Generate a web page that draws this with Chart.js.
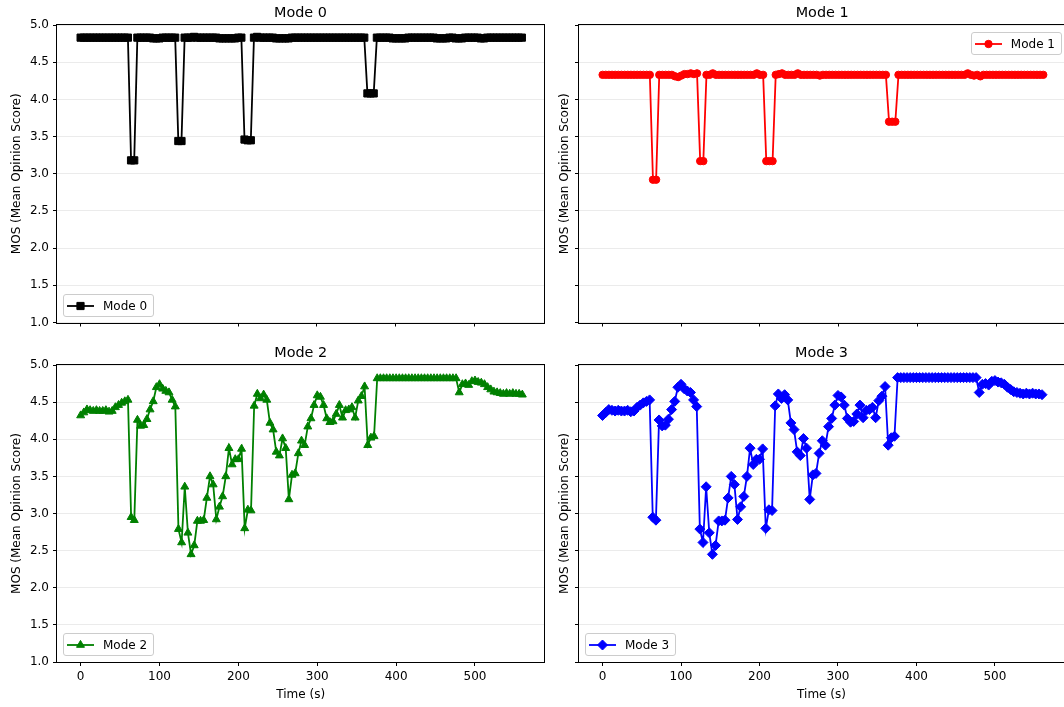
<!DOCTYPE html>
<html>
<head>
<meta charset="utf-8">
<script src="https://cdn.jsdelivr.net/npm/chart.js@4.4.0/dist/chart.umd.min.js"></script>
<style>
html,body{margin:0;padding:0;background:#ffffff;}
body{width:1064px;height:707px;overflow:hidden;position:relative;font-family:"DejaVu Sans",sans-serif;}
.panel{position:absolute;}
.panel canvas{display:block;}
.legend{position:absolute;z-index:5;height:23px;box-sizing:border-box;border:1px solid #cccccc;border-radius:3px;
background:rgba(255,255,255,0.8);display:flex;align-items:center;padding:0 6px 0 3px;font-size:12px;color:#000;white-space:nowrap;}
.legend canvas{margin-right:9px;display:block;}
</style>
</head>
<body>
<div class="panel" id="p0"><canvas id="c0"></canvas></div>
<div class="panel" id="p1"><canvas id="c1"></canvas></div>
<div class="panel" id="p2"><canvas id="c2"></canvas></div>
<div class="panel" id="p3"><canvas id="c3"></canvas></div>
<script>
// ---------- data ----------
const time = [0,4,8,12,16,20,24,28,32,36,40,44,48,52,56,60,64,68,72,76,80,84,88,92,96,100,104,108,112,116,120,124,128,132,136,140,144,148,152,156,160,164,168,172,176,180,184,188,192,196,200,204,208,212,216,220,224,228,232,236,240,244,248,252,256,260,264,268,272,276,280,284,288,292,296,300,304,308,312,316,320,324,328,332,336,340,344,348,352,356,360,364,368,372,376,380,384,388,392,396,400,404,408,412,416,420,424,428,432,436,440,444,448,452,456,460,464,468,472,476,480,484,488,492,496,500,504,508,512,516,520,524,528,532,536,540,544,548,552,556,560];

const mode0 = [4.83,4.83,4.83,4.83,4.83,4.83,4.83,4.83,4.83,4.83,4.83,4.83,4.83,4.83,4.83,4.83,
3.18,3.18,
4.83,4.83,4.83,4.83,4.83,4.82,4.82,4.82,4.83,4.83,4.83,4.83,4.83,
3.44,3.44,
4.83,4.83,4.83,4.84,4.83,4.83,4.83,4.83,4.83,4.83,4.83,4.82,4.82,4.82,4.82,4.82,4.82,4.83,4.83,
3.46,3.45,3.45,
4.83,4.84,4.83,4.83,4.83,4.83,4.83,4.82,4.82,4.82,4.82,4.82,4.83,4.83,4.83,4.83,4.83,4.83,
4.83,4.83,4.83,4.83,4.83,4.83,4.83,4.83,4.83,4.83,4.83,4.83,4.83,4.83,4.83,4.83,4.83,4.83,
4.08,4.08,4.08,
4.83,4.83,4.83,4.83,4.83,4.82,4.82,4.82,4.82,4.82,4.83,4.83,4.83,4.83,4.83,4.83,
4.83,4.83,4.83,4.82,4.82,4.82,4.82,4.83,4.83,4.82,4.82,4.82,4.83,4.83,4.83,4.83,
4.83,4.82,4.82,4.83,4.83,4.83,4.83,4.83,4.83,4.83,4.83,4.83,4.83,4.83,4.83];

const mode1 = [4.33,4.33,4.33,4.33,4.33,4.33,4.33,4.33,4.33,4.33,4.33,4.33,4.33,4.33,4.33,4.33,
2.92,2.92,
4.33,4.33,4.33,4.33,4.33,4.31,4.30,4.32,4.34,4.34,4.35,4.34,4.35,
3.17,3.17,
4.33,4.33,4.35,4.33,4.33,4.33,4.33,4.33,4.33,4.33,4.33,4.33,4.33,4.33,4.33,4.33,4.35,4.33,4.33,
3.17,3.17,3.17,
4.33,4.34,4.35,4.33,4.33,4.33,4.33,4.35,4.33,4.33,4.33,4.33,4.33,4.33,4.32,4.33,4.33,4.33,
4.33,4.33,4.33,4.33,4.33,4.33,4.33,4.33,4.33,4.33,4.33,4.33,4.33,4.33,4.33,4.33,4.33,4.33,
3.70,3.70,3.70,
4.33,4.33,4.33,4.33,4.33,4.33,4.33,4.33,4.33,4.33,4.33,4.33,4.33,4.33,4.33,4.33,
4.33,4.33,4.33,4.33,4.33,4.33,4.35,4.33,4.32,4.33,4.31,4.33,4.33,4.33,4.33,4.33,
4.33,4.33,4.33,4.33,4.33,4.33,4.33,4.33,4.33,4.33,4.33,4.33,4.33,4.33,4.33];

const mode2 = [4.32,4.36,4.40,4.39,4.38,4.39,4.38,4.38,4.39,4.37,4.38,4.43,4.46,4.49,4.51,4.53,
2.95,2.91,
4.26,4.18,4.19,4.27,4.40,4.51,4.70,4.74,4.68,4.65,4.63,4.53,4.44,
2.79,2.61,3.36,2.74,2.45,2.57,2.90,2.90,2.91,3.21,3.50,3.39,2.92,3.09,3.23,3.50,3.88,3.66,3.73,3.73,3.87,
2.80,3.05,3.04,
4.45,4.61,4.55,4.60,4.53,4.22,4.13,3.83,3.78,4.01,3.88,3.19,3.52,3.54,3.81,3.98,3.92,4.17,
4.28,4.46,4.59,4.57,4.46,4.28,4.23,4.24,4.34,4.46,4.29,4.39,4.40,4.43,4.29,4.52,4.58,4.71,
3.92,4.02,4.04,
4.82,4.82,4.82,4.82,4.82,4.82,4.82,4.82,4.82,4.82,4.82,4.82,4.82,4.82,4.82,4.82,4.82,4.82,4.82,4.82,4.82,4.82,4.82,4.82,4.82,4.82,
4.63,4.74,4.75,4.73,4.78,4.79,4.77,4.76,4.74,4.70,4.67,4.64,4.63,4.62,4.61,4.62,4.61,4.62,4.61,4.61,4.60];

const mode3 = [4.32,4.36,4.40,4.39,4.38,4.39,4.38,4.38,4.39,4.37,4.38,4.43,4.46,4.49,4.51,4.53,
2.95,2.91,
4.26,4.18,4.19,4.27,4.40,4.51,4.70,4.74,4.68,4.65,4.63,4.53,4.44,
2.79,2.61,3.36,2.74,2.45,2.57,2.90,2.90,2.91,3.21,3.50,3.39,2.92,3.09,3.23,3.50,3.88,3.66,3.73,3.73,3.87,
2.80,3.05,3.04,
4.45,4.61,4.55,4.60,4.53,4.22,4.13,3.83,3.78,4.01,3.88,3.19,3.52,3.54,3.81,3.98,3.92,4.17,
4.28,4.46,4.59,4.57,4.46,4.28,4.23,4.24,4.34,4.46,4.29,4.39,4.40,4.43,4.29,4.52,4.58,4.71,
3.92,4.02,4.04,
4.83,4.83,4.83,4.83,4.83,4.83,4.83,4.83,4.83,4.83,4.83,4.83,4.83,4.83,4.83,4.83,4.83,4.83,4.83,4.83,4.83,4.83,4.83,4.83,4.83,4.83,
4.63,4.74,4.75,4.73,4.78,4.79,4.77,4.76,4.74,4.70,4.67,4.64,4.63,4.62,4.61,4.62,4.61,4.62,4.61,4.61,4.60];

const seriesLabels = ['Mode 0','Mode 1','Mode 2','Mode 3'];
const xTicks = [0,100,200,300,400,500];
const yTicks = [1.0,1.5,2.0,2.5,3.0,3.5,4.0,4.5,5.0];
const xTitle = 'Time (s)';
const yTitle = 'MOS (Mean Opinion Score)';

// ---------- layout / style ----------
const FONT = 'DejaVu Sans';
const panels = [
  {canvas:'c0', div:'p0', left:0,   top:0,   w:550, h:340, padR:4, yW:57, xH:17.5, yPad:10, yLab:true,  xLab:false,
   values:mode0, color:'#000000', style:'rect',    r:5.1, legend:{left:63, top:294}},
  {canvas:'c1', div:'p1', left:550, top:0,   w:520, h:340, padR:2, yW:29, xH:17.5, yPad:8,  yLab:false, xLab:false,
   values:mode1, color:'#ff0000', style:'circle',  r:3.7, legend:{right:2, top:32}},
  {canvas:'c2', div:'p2', left:0,   top:340, w:550, h:367, padR:4, yW:57, xH:45,   yPad:10, yLab:true,  xLab:true,
   values:mode2, color:'#008000', style:'triangle',r:4.6, legend:{left:63, top:633}},
  {canvas:'c3', div:'p3', left:550, top:340, w:520, h:367, padR:2, yW:29, xH:45,   yPad:8,  yLab:false, xLab:true,
   values:mode3, color:'#0000ff', style:'rectRot', r:5.0, legend:{left:585, top:633}}
];

const framePlugin = {
  id:'frame',
  afterDatasetsDraw(chart){
    const a = chart.chartArea, ctx = chart.ctx;
    ctx.save();
    ctx.strokeStyle = '#000';
    ctx.lineWidth = 1;
    const l = Math.round(a.left) - 0.5, t = Math.round(a.top) - 0.5;
    const r = Math.round(a.right) + 0.5, b = Math.round(a.bottom) + 0.5;
    ctx.strokeRect(l, t, r - l, b - t);
    ctx.restore();
  }
};

function drawMarker(c, style, x, y, r){
  c.beginPath();
  if (style === 'rect'){ const s = Math.SQRT1_2*r; c.rect(x-s, y-s, 2*s, 2*s); }
  else if (style === 'circle'){ c.arc(x, y, r, 0, Math.PI*2); }
  else if (style === 'triangle'){
    for (let k=0;k<3;k++){ const a = k*2*Math.PI/3; const px = x+Math.sin(a)*r, py = y-Math.cos(a)*r; if(k===0)c.moveTo(px,py); else c.lineTo(px,py); }
    c.closePath();
  } else { c.moveTo(x-r,y); c.lineTo(x,y-r); c.lineTo(x+r,y); c.lineTo(x,y+r); c.closePath(); }
  c.fill(); c.stroke();
}

panels.forEach((p, idx) => {
  const div = document.getElementById(p.div);
  div.style.left = p.left+'px'; div.style.top = p.top+'px';
  div.style.width = p.w+'px'; div.style.height = p.h+'px';
  const cv = document.getElementById(p.canvas);
  cv.width = p.w; cv.height = p.h;
  cv.style.width = p.w+'px'; cv.style.height = p.h+'px';

  const pts = time.map((t,i) => ({x:t, y:p.values[i]}));

  new Chart(cv, {
    type:'line',
    data:{ datasets:[{
      label: seriesLabels[idx],
      data: pts,
      borderColor:p.color, backgroundColor:p.color,
      borderWidth:1.8, tension:0,
      pointStyle:p.style, pointRadius:p.r, pointBorderWidth:1,
      pointBackgroundColor:p.color, pointBorderColor:p.color,
      pointHoverRadius:p.r
    }]},
    options:{
      responsive:false, animation:false, devicePixelRatio:1, events:[],
      layout:{padding:{left:0, right:p.padR, top:0, bottom:0}},
      plugins:{
        legend:{display:false}, tooltip:{enabled:false},
        title:{display:true, text:seriesLabels[idx], fullSize:false, color:'#000',
               font:{family:FONT, size:14.4, weight:'normal', lineHeight:1.2},
               padding:{top:5, bottom:2.72}}
      },
      scales:{
        x:{type:'linear', min:-30, max:588,
           afterBuildTicks: s => { s.ticks = xTicks.map(v => ({value:v})); },
           afterFit: s => { s.height = p.xH; },
           grid:{drawOnChartArea:false, drawTicks:true, tickLength:4, tickColor:'#000', tickWidth:1},
           border:{display:false},
           ticks:{autoSkip:false, maxRotation:0, color:'#000', padding:4, font:{family:FONT, size:12},
                  callback: v => p.xLab ? String(v) : ''},
           title:{display:p.xLab, text:xTitle, color:'#000', font:{family:FONT, size:12}, padding:{top:0, bottom:4.5}}
        },
        y:{type:'linear', min:1, max:5,
           afterBuildTicks: s => { s.ticks = yTicks.map(v => ({value:v})); },
           afterFit: s => { s.width = p.yW; },
           grid:{color:'#ebebeb', lineWidth:1, drawTicks:true, tickLength:4, tickColor:'#000', tickWidth:1},
           border:{display:false},
           ticks:{autoSkip:false, color:'#000', padding:4, font:{family:FONT, size:12},
                  callback: v => p.yLab ? Number(v).toFixed(1) : ''},
           title:{display:true, text:yTitle, color:'#000', font:{family:FONT, size:12}, padding:{top:p.yPad, bottom:0}}
        }
      }
    },
    plugins:[framePlugin]
  });

  // legend (matplotlib-style box)
  const lg = document.createElement('div');
  lg.className = 'legend';
  Object.keys(p.legend).forEach(k => lg.style[k] = p.legend[k]+'px');
  const sc = document.createElement('canvas');
  sc.width = 27; sc.height = 14;
  const c = sc.getContext('2d');
  c.strokeStyle = p.color; c.fillStyle = p.color; c.lineWidth = 1.8;
  c.beginPath(); c.moveTo(0,7); c.lineTo(27,7); c.stroke();
  c.lineWidth = 1;
  drawMarker(c, p.style, 13.5, 7, p.r);
  lg.appendChild(sc);
  const sp = document.createElement('span');
  sp.textContent = seriesLabels[idx];
  lg.appendChild(sp);
  document.body.appendChild(lg);
});
</script>
</body>
</html>
